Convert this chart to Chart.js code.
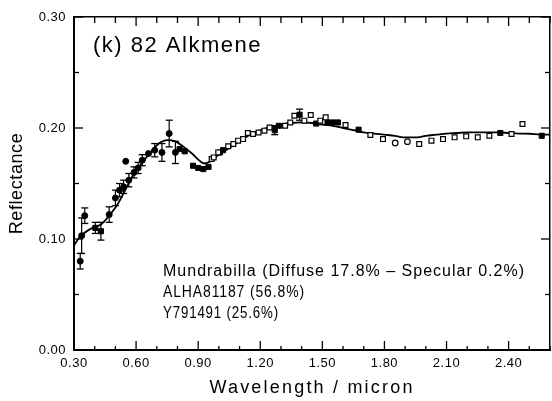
<!DOCTYPE html>
<html><head><meta charset="utf-8">
<script src="https://cdn.jsdelivr.net/npm/chart.js@4/dist/chart.umd.min.js"></script>
<style>
html,body{margin:0;padding:0;background:#fff;overflow:hidden;width:552px;height:401px}
#wrap{position:absolute;left:0;top:0;width:556px;height:401px}
</style>
</head><body><div id="wrap"><canvas id="c"></canvas></div>
<script>
// ---- model curve (Mundrabilla + ALHA81187 + Y791491 mixture) ----
const modelW = [0.30,0.32,0.34,0.37,0.40,0.43,0.47,0.51,0.55,0.59,0.63,0.67,0.71,0.75,0.79,0.83,0.87,0.91,0.93,0.96,1.00,1.05,1.10,1.15,1.20,1.25,1.30,1.35,1.40,1.45,1.50,1.55,1.60,1.65,1.70,1.75,1.80,1.85,1.90,1.95,2.00,2.05,2.10,2.15,2.20,2.25,2.30,2.35,2.40,2.45,2.50,2.55,2.60];
const modelR = [0.094,0.100,0.104,0.108,0.111,0.113,0.121,0.131,0.145,0.159,0.169,0.178,0.186,0.189,0.188,0.183,0.177,0.170,0.168,0.170,0.176,0.182,0.188,0.194,0.198,0.201,0.203,0.2045,0.205,0.2045,0.203,0.202,0.200,0.198,0.196,0.195,0.194,0.193,0.1915,0.1915,0.193,0.194,0.195,0.1955,0.196,0.196,0.196,0.196,0.1955,0.195,0.1948,0.1942,0.194];

// ---- telescopic points (filled circles) ----
const telW = [0.330,0.337,0.352,0.470,0.500,0.520,0.540,0.550,0.565,0.590,0.610,0.630,0.660,0.690,0.725,0.760,0.790];
const telR = [0.080,0.103,0.121,0.122,0.137,0.144,0.147,0.170,0.153,0.160,0.164,0.171,0.177,0.180,0.178,0.195,0.178];

// ---- filled squares ----
const fsqW = [0.403,0.430,0.810,0.835,0.875,0.900,0.925,0.950,1.005,1.020,1.270,1.290,1.390,1.470,1.525,1.550,1.575,1.675,2.360,2.560];
const fsqR = [0.110,0.107,0.181,0.179,0.166,0.164,0.163,0.165,0.178,0.180,0.198,0.202,0.212,0.204,0.205,0.205,0.205,0.1985,0.1955,0.193];

// ---- open squares ----
const osqW = [0.965,0.975,0.997,1.045,1.070,1.093,1.117,1.140,1.165,1.192,1.220,1.245,1.320,1.345,1.365,1.413,1.444,1.490,1.516,1.612,1.732,1.793,1.968,2.027,2.083,2.139,2.195,2.251,2.307,2.414,2.467];
const osqR = [0.172,0.1735,0.178,0.1835,0.1856,0.1886,0.190,0.1955,0.1946,0.196,0.1976,0.2005,0.202,0.205,0.211,0.2066,0.2117,0.2066,0.2096,0.2027,0.1937,0.190,0.1856,0.1886,0.190,0.1916,0.1925,0.1916,0.193,0.1946,0.2036];

// ---- open circles ----
const ocW = [1.852,1.911];
const ocR = [0.1865,0.1877];

// ---- error bars (centre wavelength, reflectance, half-length) ----
const ebW = [0.330,0.337,0.352,0.403,0.430,0.470,0.500,0.520,0.540,0.565,0.590,0.610,0.630,0.690,0.725,0.760,0.790,1.270,1.390];
const ebR = [0.080,0.103,0.121,0.110,0.107,0.122,0.137,0.144,0.147,0.153,0.160,0.164,0.171,0.180,0.178,0.195,0.178,0.198,0.212];
const ebE = [0.007,0.016,0.007,0.005,0.008,0.007,0.007,0.006,0.006,0.006,0.005,0.005,0.005,0.006,0.008,0.012,0.010,0.004,0.005];

// ---- tick labels ----
const xLabelVals = [0.30,0.60,0.90,1.20,1.50,1.80,2.10,2.40];
const xLabelText = ['0.30','0.60','0.90','1.20','1.50','1.80','2.10','2.40'];
const yLabelVals = [0.00,0.10,0.20,0.30];
const yLabelText = ['0.00','0.10','0.20','0.30'];

// ---- texts ----
const panelTitle = '(k) 82 Alkmene';
const legendLines = ['Mundrabilla (Diffuse 17.8% \u2013 Specular 0.2%)','ALHA81187 (56.8%)','Y791491 (25.6%)'];

const pts = (w, r) => w.map((x, i) => ({x, y: r[i]}));
const ebData = [];
ebW.forEach((w, i) => {
  ebData.push({x: w, y: ebR[i] - ebE[i]});
  ebData.push({x: w, y: ebR[i] + ebE[i]});
  ebData.push({x: w, y: null});
});
const findLabel = (vals, txt, v) => { const i = vals.findIndex(a => Math.abs(a - v) < 1e-6); return i >= 0 ? txt[i] : ''; };

const FONT = "'Liberation Sans', Arial, sans-serif";
const spacing = {x: {labels: '0.5px', title: '2.2px'}, y: {labels: '0.5px', title: '0.6px'}};

const frameTicks = {
  id: 'frameTicks',
  beforeDraw(chart) {
    Object.keys(spacing).forEach(id => {
      const s = chart.scales[id];
      if (!s || s._lsPatched) return;
      const dl = s.drawLabels.bind(s), dt = s.drawTitle.bind(s);
      s.drawLabels = function(a){ const c = this.ctx; c.save(); c.letterSpacing = spacing[id].labels; dl(a); c.restore(); };
      s.drawTitle = function(a){ const c = this.ctx; c.save(); c.letterSpacing = spacing[id].title; dt(a); c.restore(); };
      s._lsPatched = true;
    });
  },
  afterDraw(chart) {
    const ctx = chart.ctx, a = chart.chartArea;
    ctx.save();
    ctx.strokeStyle = '#000'; ctx.lineWidth = 1.3;
    const seg = (x1, y1, x2, y2) => { ctx.beginPath(); ctx.moveTo(x1, y1); ctx.lineTo(x2, y2); ctx.stroke(); };
    const sx = chart.scales.x, sx2 = chart.scales.x2, sy = chart.scales.y, sy2 = chart.scales.y2;
    sx.ticks.forEach(t => { const p = sx.getPixelForValue(t.value); const L = findLabel(xLabelVals, xLabelText, t.value) ? 9 : 4; seg(p, a.bottom, p, a.bottom - L); });
    sx2.ticks.forEach(t => { const p = sx2.getPixelForValue(t.value); const L = findLabel(xLabelVals, xLabelText, t.value) ? 9 : 6; seg(p, a.top, p, a.top + L); });
    sy.ticks.forEach(t => { const p = sy.getPixelForValue(t.value); const L = findLabel(yLabelVals, yLabelText, t.value) ? 9 : 5; seg(a.left, p, a.left + L, p); });
    sy2.ticks.forEach(t => { const p = sy2.getPixelForValue(t.value); const L = findLabel(yLabelVals, yLabelText, t.value) ? 9 : 5; seg(a.right, p, a.right - L, p); });
    // texts
    ctx.fillStyle = '#000';
    ctx.textBaseline = 'alphabetic'; ctx.textAlign = 'left';
    ctx.font = '22px ' + FONT; ctx.letterSpacing = '1.5px';
    ctx.fillText(panelTitle, a.left + 19, a.top + 35);
    ctx.font = '16px ' + FONT; ctx.letterSpacing = '1px';
    const widths = [362, 142, 116];
    legendLines.forEach((t, i) => ctx.fillText(t, 163, 276 + i * 21, widths[i]));
    ctx.restore();
  }
};

const xTicks = {stepSize: 0.1, autoSkip: false, maxRotation: 0, minRotation: 0, padding: 6, color: '#000', font: {family: FONT, size: 13}};
new Chart(document.getElementById('c'), {
  data: {
    datasets: [
      {type: 'line', label: 'Model', data: pts(modelW, modelR), borderColor: '#000', borderWidth: 1.8, pointRadius: 0, cubicInterpolationMode: 'monotone', fill: false, order: 5},
      {type: 'line', label: 'Error bars', data: ebData, borderColor: '#000', borderWidth: 1.2, spanGaps: false, pointStyle: 'line', pointRadius: 3.5, pointBorderWidth: 1.3, pointBorderColor: '#000', order: 4},
      {type: 'scatter', label: 'Telescopic', data: pts(telW, telR), pointStyle: 'circle', pointRadius: 3, backgroundColor: '#000', borderColor: '#000', order: 3},
      {type: 'scatter', label: 'Filled squares', data: pts(fsqW, fsqR), pointStyle: 'rect', pointRadius: 3.6, backgroundColor: '#000', borderColor: '#000', order: 2},
      {type: 'scatter', label: 'Open squares', data: pts(osqW, osqR), pointStyle: 'rect', pointRadius: 3.4, backgroundColor: '#fff', borderColor: '#000', borderWidth: 1.2, order: 1},
      {type: 'scatter', label: 'Open circles', data: pts(ocW, ocR), pointStyle: 'circle', pointRadius: 2.8, backgroundColor: '#fff', borderColor: '#000', borderWidth: 1.2, order: 1}
    ]
  },
  options: {
    responsive: true, maintainAspectRatio: false, animation: false, devicePixelRatio: 1,
    layout: {padding: {left: 0, right: 1, top: 17, bottom: 0}},
    plugins: {legend: {display: false}, tooltip: {enabled: false}},
    scales: {
      x: {type: 'linear', position: 'bottom', min: 0.3, max: 2.6,
        ticks: Object.assign({}, xTicks, {callback: v => findLabel(xLabelVals, xLabelText, v)}),
        grid: {drawOnChartArea: false, drawTicks: false}, border: {display: true, color: '#000', width: 2},
        title: {display: true, text: 'Wavelength / micron', color: '#000', font: {family: FONT, size: 18}, padding: {top: 0, bottom: 2}},
        afterFit: s => { s.height = 51; }},
      x2: {type: 'linear', position: 'top', min: 0.3, max: 2.6,
        ticks: {display: false, stepSize: 0.1, autoSkip: false},
        grid: {drawOnChartArea: false, drawTicks: false}, border: {display: true, color: '#000', width: 1.5},
        afterFit: s => { s.height = 0; }},
      y: {type: 'linear', position: 'left', min: 0, max: 0.3,
        ticks: {stepSize: 0.05, autoSkip: false, padding: 8, color: '#000', font: {family: FONT, size: 13}, callback: v => findLabel(yLabelVals, yLabelText, v)},
        grid: {drawOnChartArea: false, drawTicks: false}, border: {display: true, color: '#000', width: 2},
        title: {display: true, text: 'Reflectance', color: '#000', font: {family: FONT, size: 18}, padding: {top: 6, bottom: 0}},
        afterFit: s => { s.width = 74; }},
      y2: {type: 'linear', position: 'right', min: 0, max: 0.3,
        ticks: {display: false, stepSize: 0.05, autoSkip: false},
        grid: {drawOnChartArea: false, drawTicks: false}, border: {display: true, color: '#000', width: 1.5},
        afterFit: s => { s.width = 0; }}
    }
  },
  plugins: [frameTicks]
});
</script>
</body></html>
